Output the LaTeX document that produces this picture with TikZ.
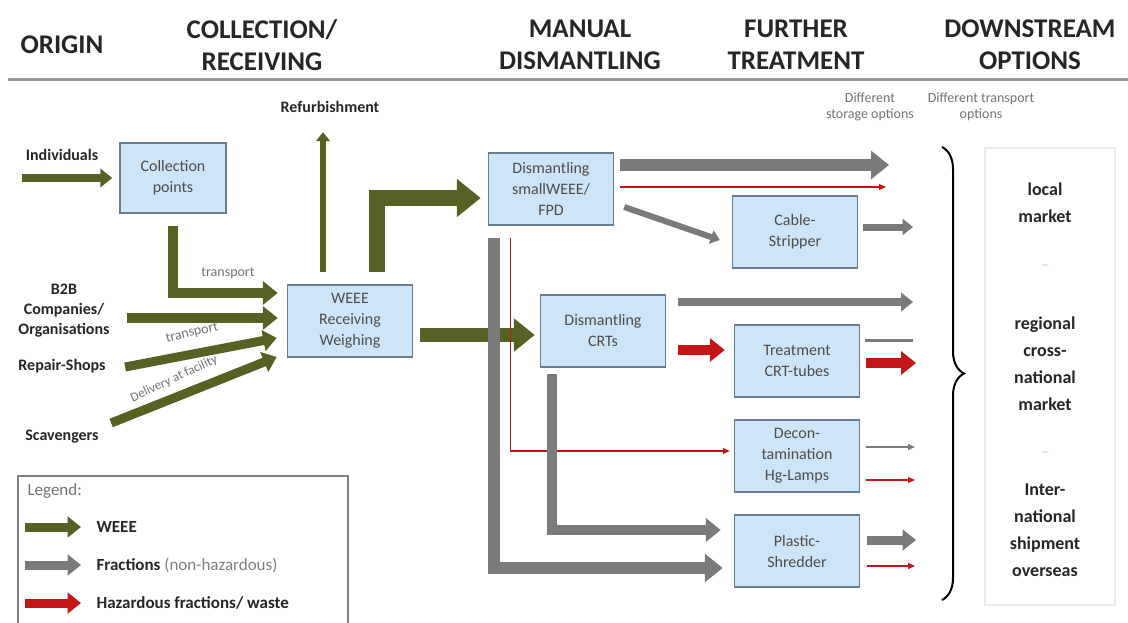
\documentclass[tikz,border=0pt]{standalone}
\usepackage{fontspec}
\setmainfont{Carlito}
\usetikzlibrary{arrows.meta,calc,decorations.pathreplacing}

\definecolor{weeegreen}{RGB}{88,97,36}
\definecolor{fracgrey}{RGB}{122,122,122}
\definecolor{hazred}{RGB}{196,22,22}
\definecolor{boxfill}{RGB}{205,229,248}
\definecolor{boxline}{RGB}{105,125,145}

\tikzset{
  box/.style={draw=boxline, line width=1.5, fill=boxfill, minimum width=125, minimum height=72, align=center, text=black!70, font=\fontsize{16}{21}\selectfont},
  head/.style={font=\fontsize{27}{32}\selectfont\bfseries, text=black!85, align=center},
  src/.style={font=\fontsize{16}{20}\selectfont\bfseries, text=black!85, align=center},
  note/.style={font=\fontsize{14}{16}\selectfont, text=black!55, align=center},
  mkt/.style={font=\fontsize{18}{27}\selectfont\bfseries, text=black!85, align=center},
  flow/.style={line width=#1, -{Triangle[length=0pt 1.5, width=0pt 2.3]}},
  weee/.style={flow=#1, draw=weeegreen},
  frac/.style={flow=#1, draw=fracgrey},
  haz/.style={flow=#1, draw=hazred},
  fracthin/.style={draw=fracgrey, line width=1.5, -{Triangle[length=7pt, width=6pt]}},
  hazthin/.style={draw=hazred, line width=1.2, -{Triangle[length=7pt, width=6pt]}},
}

\begin{document}
\begin{tikzpicture}[x=1pt, y=-1pt]
  \useasboundingbox (0,0) rectangle (1128,623);

  \node[head] (horigin) at (62,45) {ORIGIN};
  \node[head] (hcoll) at (262,45) {COLLECTION/\\RECEIVING};
  \node[head] (hman) at (580,45) {MANUAL\\DISMANTLING};
  \node[head] (hfur) at (796,45) {FURTHER\\TREATMENT};
  \node[head] (hdown) at (1030,45) {DOWNSTREAM\\OPTIONS};
  \draw[black!40, line width=3] (8,80) -- (1128,80);

  \node[src] (indiv) at (62,155) {Individuals};
  \node[src] (b2b) at (64,311) {B2B\\Companies/\\Organisations};
  \node[src] (repair) at (62,366) {Repair-Shops};
  \node[src] (scav) at (62,437) {Scavengers};
  \node[src] (refurb) at (330,107) {Refurbishment};
  \node[note] (storage) at (870,107) {Different\\storage options};
  \node[note] (transp) at (981,107) {Different transport\\options};

  \node[box, minimum width=106, minimum height=70] (colpt) at (173,178) {Collection\\points};
  \node[box] (recv) at (350,321) {WEEE\\Receiving\\Weighing};
  \node[box] (dissmall) at (551,189) {Dismantling\\smallWEEE/\\FPD};
  \node[box] (discrt) at (603,331) {Dismantling\\CRTs};
  \node[box] (cable) at (795,232) {Cable-\\Stripper};
  \node[box] (treat) at (797,361) {Treatment\\CRT-tubes};
  \node[box] (decon) at (797,456) {Decon-\\tamination\\Hg-Lamps};
  \node[box] (shred) at (797,551) {Plastic-\\Shredder};

  \draw[weee=8] (indiv.south west |- colpt.west) -- ($(colpt.west)+(-7,0)$);
  \draw[weee=10] ($(colpt.south)+(0,12)$) |- ($(recv.west)+(-9,-28)$);
  \node[note] (trans1) at (228,273) {transport};
  \draw[weee=10] ($(b2b.east)+(14,7)$) -- ($(recv.west)+(-9,-3)$);
  \draw[weee=9] ($(repair.east)+(16,1)$) -- ($(recv.west)+(-10,17)$);
  \draw[weee=9] ($(scav.east)+(9,-14)$) -- ($(recv.west)+(-10,36)$);
  \node[note, rotate=13, inner sep=1] (trans2) at (192,333) {transport};
  \node[note, rotate=25, inner sep=1, font=\fontsize{13}{15}\selectfont] (deliv) at (174,379) {Delivery at facility};
  \draw[weee=6] ($(recv.north)+(-27,-12)$) -- ($(refurb.south)+(-7,16)$);
  \draw[weee=16] ($(recv.north)+(27,-12)$) |- ($(dissmall.west)+(-7,9)$);
  \draw[weee=14] ($(recv.east)+(7,14)$) -- ($(discrt.west)+(-5,4)$);

  \coordinate (st1) at (889,165);
  \coordinate (st2) at (886,187);
  \coordinate (st3) at (913,227);
  \coordinate (st4) at (913,302);
  \coordinate (st5) at (913,340);
  \coordinate (st6) at (916,363);
  \coordinate (st7) at (915,447);
  \coordinate (st8) at (915,480);
  \coordinate (st9) at (916,540);
  \coordinate (st10) at (915,566);

  \draw[frac=12] ($(dissmall.east)+(6,-24)$) -- (st1);
  \draw[hazthin] ($(dissmall.east)+(6,-2)$) -- (st2);
  \draw[frac=6] ($(dissmall.east)+(10,18)$) -- ($(cable.west)+(-12,8)$);
  \draw[frac=7] ($(cable.east)+(5,-5)$) -- (st3);
  \draw[frac=8] ($(discrt.east)+(12,-29)$) -- (st4);
  \draw[haz=10] ($(discrt.east)+(12,19)$) -- ($(treat.west)+(-9,-11)$);
  \draw[fracgrey, line width=3] ($(treat.east)+(5,-21)$) -- (st5);
  \draw[haz=10] ($(treat.east)+(6,2)$) -- (st6);
  \draw[fracthin] ($(decon.east)+(6,-9)$) -- (st7);
  \draw[hazthin] ($(decon.east)+(6,24)$) -- (st8);
  \draw[frac=9] ($(shred.east)+(7,-11)$) -- (st9);
  \draw[hazthin] ($(shred.east)+(7,15)$) -- (st10);
  \draw[hazthin] ($(dissmall.south west)+(23,12)$) |- ($(decon.west)+(-4,-5)$);
  \draw[frac=12] ($(dissmall.south west)+(6,12)$) |- ($(shred.west)+(-11,17)$);
  \draw[frac=10] ($(discrt.south west)+(12,6)$) |- ($(shred.west)+(-13,-21)$);

  \draw[decorate, decoration={brace, amplitude=22}, line width=2] (942,147) -- (942,600);
  \draw[black!8, line width=1.5] (985,148) rectangle (1115,605);
  \node[mkt] (local) at (1045,203) {local\\market};
  \node[mkt, text=black!12] (gap1) at (1045,268) {–};
  \node[mkt] (regional) at (1045,364) {regional\\cross-\\national\\market};
  \node[mkt, text=black!12] (gap2) at (1045,455) {–};
  \node[mkt] (intl) at (1045,530) {Inter-\\national\\shipment\\overseas};

  \draw[black!50, line width=1.5] (18,623) |- (348,476) -- (348,623);
  \node[note, anchor=west, font=\fontsize{17}{19}\selectfont] (legend) at (24,491) {Legend:};
  \node[src, anchor=west, font=\fontsize{17}{19}\selectfont\bfseries] (legw) at (93,527) {WEEE};
  \node[src, anchor=west, font=\fontsize{17}{19}\selectfont\bfseries] (legf) at (93,565) {Fractions \textmd{\color{black!50}(non-hazardous)}};
  \node[src, anchor=west, font=\fontsize{17}{19}\selectfont\bfseries] (legh) at (93,603) {Hazardous fractions/ waste};
  \draw[weee=9] ($(legw.west)+(-68,0)$) -- ($(legw.west)+(-12,0)$);
  \draw[frac=9] ($(legf.west)+(-68,0)$) -- ($(legf.west)+(-12,0)$);
  \draw[haz=9] ($(legh.west)+(-68,0)$) -- ($(legh.west)+(-12,0)$);
\end{tikzpicture}
\end{document}
